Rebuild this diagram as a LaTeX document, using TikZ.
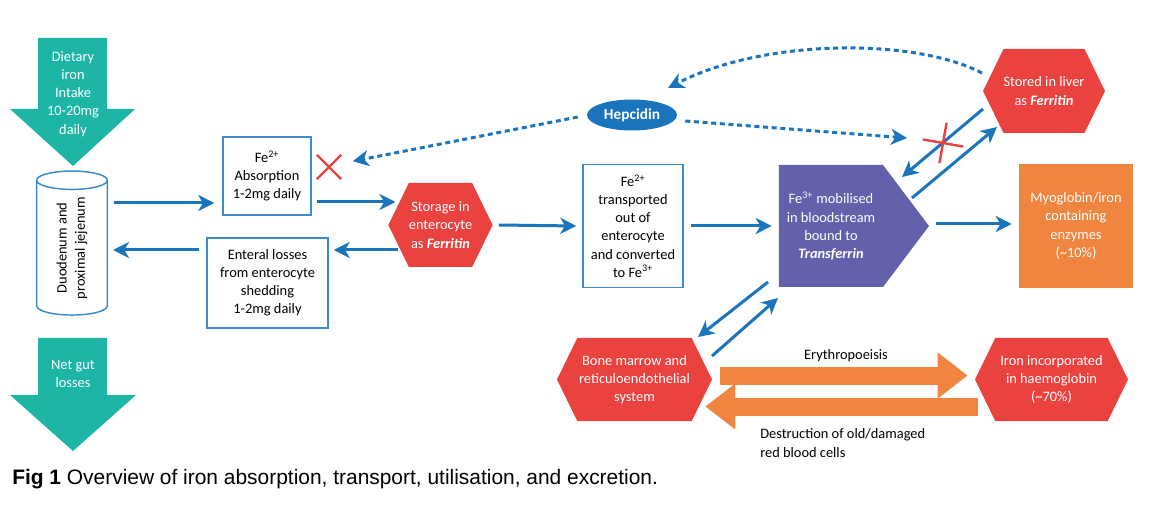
\documentclass[tikz,border=0pt]{standalone}
\usepackage{fontspec}
\setmainfont{Carlito}
\newfontfamily\capfont{Liberation Sans}
\usetikzlibrary{shapes.geometric,shapes.symbols,shapes.misc,arrows.meta,calc}

\definecolor{gutteal}{RGB}{29,181,166}
\definecolor{hexred}{RGB}{233,66,63}
\definecolor{tfpurple}{RGB}{100,97,172}
\definecolor{myoorange}{RGB}{240,133,63}
\definecolor{flowblue}{RGB}{27,117,188}
\definecolor{boxblue}{RGB}{60,140,205}

\begin{document}
\begin{tikzpicture}[x=0.75pt,y=-0.75pt,
  every node/.style={font=\fontsize{10.8}{13.6}\selectfont,align=center},
  box/.style={draw=boxblue,line width=1.1pt,fill=white,inner sep=0pt},
  hexa/.style={signal,signal to=east and west,signal pointer angle=128,fill=hexred,text=white,inner sep=0pt},
  flow/.style={draw=flowblue,line width=2.25pt,-{Stealth[length=12pt,width=12pt,inset=3.5pt]}},
  dotflow/.style={flow,dash pattern=on 3.75pt off 2.75pt},
  bigarrow/.style={draw=myoorange,line width=13.5pt,-{Triangle[length=22.5pt,width=33pt]}},
  nocross/.style={cross out,draw=hexred,line width=1.8pt,minimum size=16.5pt,inner sep=0pt}]
\useasboundingbox (0,0) rectangle (1165,506);

% gut in and out
\fill[gutteal] (38,38) -- (107,38) -- (107,109) -- (135,109) -- (73,166) -- (10,109) -- (38,109) -- cycle;
\fill[gutteal] (38,338) -- (107,338) -- (107,395) -- (136,395) -- (73,451) -- (10,395) -- (38,395) -- cycle;
\node[text=white] (diet) at (73,94) {Dietary\\iron\\Intake\\10-20mg\\daily};
\node[text=white] (netloss) at (73,374) {Net gut\\losses};
\node[cylinder,draw=boxblue,line width=1.1pt,rotate=90,minimum width=53pt,minimum height=108pt,aspect=0.6,inner sep=0pt] (cyl) at (72,248) {Duodenum and\\proximal jejenum};

% enterocyte
\node[box,minimum width=66pt,minimum height=58.5pt] (abs) at (267,176) {Fe\textsuperscript{2+}\\Absorption\\1-2mg daily};
\node[box,minimum width=90.75pt,minimum height=67.5pt] (ent) at (267.5,283) {Enteral losses\\from enterocyte\\shedding\\1-2mg daily};
\node[hexa,minimum width=72.75pt,minimum height=63pt] (stor) at (440.5,225) {Storage in\\enterocyte\\as \textbf{\textit{Ferritin}}};
\node[box,minimum width=75pt,minimum height=92.25pt] (trans) at (633,226) {Fe\textsuperscript{2+}\\transported\\out of\\enterocyte\\and converted\\to Fe\textsuperscript{3+}};

% blood and stores
\node[signal,signal to=east,signal pointer angle=106,fill=tfpurple,text=white,inner sep=0pt,minimum width=112.5pt,minimum height=91.5pt] (tf) at (831,226) {Fe\textsuperscript{3+} mobilised\\in bloodstream\\bound to\\\textbf{\textit{Transferrin}}};
\node[fill=myoorange,text=white,minimum width=85.5pt,minimum height=93pt,inner sep=0pt] (myo) at (1076,226) {Myoglobin/iron\\containing\\enzymes\\(\textasciitilde10\%)};
\node[hexa,minimum width=88.5pt,minimum height=63pt] (liver) at (1044,91) {Stored in liver\\as \textbf{\textit{Ferritin}}};
\node[hexa,minimum width=116.25pt,minimum height=62.25pt] (bm) at (634.5,379.5) {Bone marrow and\\reticuloendothelial\\system};
\node[hexa,minimum width=114.75pt,minimum height=62.25pt] (hb) at (1051.5,379.5) {Iron incorporated\\in haemoglobin\\(\textasciitilde70\%)};
\node[ellipse,fill=flowblue,text=white,font=\bfseries\fontsize{11.5}{13}\selectfont,minimum width=67.5pt,minimum height=23.25pt,inner sep=0pt] (hep) at (632,115) {Hepcidin};

% flows
\draw[flow] ($(cyl)+(42,-45)$) -- ($(abs.west)+(-8,27)$);
\draw[flow] ($(abs.east)+(5,26)$) -- ($(stor)+(-45,-23)$);
\draw[flow] ($(stor)+(-43,25)$) -- ($(ent.east)+(5,-33)$);
\draw[flow] ($(ent.west)+(-7,-33)$) -- ($(cyl)+(41,2)$);
\draw[flow] ($(stor.east)+(6,0)$) -- ($(trans.west)+(-6,0)$);
\draw[flow] ($(trans.east)+(7,0)$) -- ($(tf.west)+(-7,0)$);
\draw[flow] ($(tf.east)+(7,-2)$) -- ($(myo.west)+(-7,-2)$);
\draw[flow] ($(liver)+(-61,18)$) -- ($(tf)+(71,-49)$);
\draw[flow] ($(tf)+(81,-28)$) -- ($(liver)+(-47,36)$);
\draw[flow] ($(tf)+(-63,56)$) -- ($(bm)+(63.5,-42.5)$);
\draw[flow] ($(bm)+(77.5,-23.5)$) -- ($(tf)+(-53,72)$);
\node[nocross] (blockgut) at (329,167) {};
\node[nocross,minimum size=20pt,rotate=35] (blockliver) at (943,143) {};

% hepcidin
\draw[dotflow] ($(hep.west)+(-9,2)$) -- ($(abs.north east)+(41,25)$);
\draw[dotflow] ($(hep.east)+(8,6)$) -- ($(tf)+(76,-88)$);
\draw[dotflow] ($(liver)+(-62,-18)$) .. controls (915,38) and (765,38) .. ($(hep)+(36,-27)$);

% red cells
\draw[bigarrow] ($(bm.east)+(8,-4)$) -- ($(hb.west)+(-7,-4)$);
\draw[bigarrow] ($(hb.west)+(3,27)$) -- ($(bm.east)+(-7,27)$);
\node (ery) at (846,356) {Erythropoeisis};
\node[anchor=west,align=left,inner sep=0pt] (destr) at (760,443) {Destruction of old/damaged\\red blood cells};

\node[font=\capfont\fontsize{15.7}{18}\selectfont,anchor=base west,inner sep=0pt] (caption) at (12,484) {\textbf{Fig 1} Overview of iron absorption, transport, utilisation, and excretion.};
\end{tikzpicture}
\end{document}
